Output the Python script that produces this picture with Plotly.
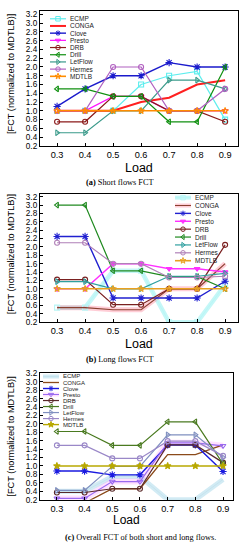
import plotly.graph_objects as go

W, H = 244, 550

# ---------------- data ----------------
loads = [0.3, 0.4, 0.5, 0.6, 0.7, 0.8, 0.9]
x_tick_labels = ["0.3", "0.4", "0.5", "0.6", "0.7", "0.8", "0.9"]
y_tick_vals = [0.2, 0.4, 0.6, 0.8, 1.0, 1.2, 1.4, 1.6, 1.8, 2.0, 2.2, 2.4, 2.6, 2.8, 3.0, 3.2]
schemes = ["ECMP", "CONGA", "Clove", "Presto", "DRB", "Drill", "LetFlow", "Hermes", "MDTLB"]

# (a) short flows FCT
short_ecmp = [1.0, 1.0, 1.0, 1.6, 1.8, 1.9, 0.8]
short_conga = [1.0, 1.0, 1.0, 1.2, 1.3, 1.6, 1.7]
short_clove = [1.1, 1.5, 1.8, 1.8, 2.1, 2.0, 2.0]
short_presto = [1.0, 1.0, 1.33, 1.33, 1.0, 1.0, 1.0]
short_drb = [0.75, 0.75, 1.33, 1.33, 1.0, 1.0, 0.75]
short_drill = [1.5, 1.5, 1.33, 1.33, 0.75, 0.75, 2.0]
short_letflow = [0.5, 0.5, 1.0, 1.0, 1.7, 1.7, 1.5]
short_hermes = [1.0, 1.0, 2.0, 2.0, 1.0, 1.0, 1.5]
short_mdtlb = [1.0, 1.0, 1.0, 1.0, 1.0, 1.0, 1.0]

# (b) long flows FCT
long_ecmp = [0.55, 0.55, 1.43, 1.43, 0.2, 0.2, 1.1]
long_conga = [0.55, 0.55, 0.5, 0.5, 1.0, 1.0, 1.6]
long_clove = [2.25, 2.25, 0.78, 0.78, 0.78, 0.78, 1.18]
long_presto = [1.0, 1.0, 1.6, 1.6, 1.48, 1.48, 1.4]
long_drb = [1.22, 1.22, 0.62, 0.62, 1.0, 1.0, 2.05]
long_drill = [3.0, 3.0, 1.43, 1.43, 1.29, 1.29, 1.0]
long_letflow = [1.17, 1.17, 1.0, 1.0, 1.3, 1.3, 1.37]
long_hermes = [2.1, 2.1, 1.6, 1.6, 1.27, 1.27, 1.3]
long_mdtlb = [1.0, 1.0, 1.0, 1.0, 1.0, 1.0, 1.0]

# (c) overall FCT
all_ecmp = [0.4, 0.4, 0.75, 0.75, 0.2, 0.2, 0.68]
all_conga = [0.12, 0.12, 0.46, 0.46, 1.27, 1.27, 1.5]
all_clove = [0.88, 0.88, 0.79, 0.79, 1.5, 1.5, 0.87]
all_presto = [0.23, 0.23, 0.63, 0.63, 1.55, 1.55, 1.48]
all_drb = [0.37, 0.37, 0.46, 0.46, 1.5, 1.5, 1.08]
all_drill = [1.82, 1.82, 1.49, 1.49, 2.05, 2.05, 1.05]
all_letflow = [0.42, 0.42, 0.99, 0.99, 1.74, 1.74, 1.2]
all_hermes = [1.49, 1.49, 1.18, 1.18, 1.59, 1.59, 1.24]
all_mdtlb = [1.0, 1.0, 1.0, 1.0, 1.0, 1.0, 1.0]

captions = ["<b>(a)</b> Short flows FCT", "<b>(b)</b> Long flows FCT",
            "<b>(c)</b> Overall FCT of both short and long flows."]
y_title = "[FCT (normalized to MDTLB)]"
x_title = "Load"

panel_values = [
    [short_ecmp, short_conga, short_clove, short_presto, short_drb, short_drill, short_letflow, short_hermes, short_mdtlb],
    [long_ecmp, long_conga, long_clove, long_presto, long_drb, long_drill, long_letflow, long_hermes, long_mdtlb],
    [all_ecmp, all_conga, all_clove, all_presto, all_drb, all_drill, all_letflow, all_hermes, all_mdtlb],
]

# ---------------- styles ----------------
# (color, symbol or None, line width, band color or None, band width)
panel_styles = [
    [("#5eeeee", "square-open", 1.2, None, 0),
     ("#ff2020", None, 2.0, None, 0),
     ("#1a1acc", "asterisk-open", 1.4, None, 0),
     ("#ff10ff", "triangle-down-open", 1.2, None, 0),
     ("#8b1a1a", "circle-open", 1.2, None, 0),
     ("#119011", "triangle-left-open", 1.2, None, 0),
     ("#3a9a8a", "triangle-right-open", 1.2, None, 0),
     ("#b060c0", "circle-open", 1.2, None, 0),
     ("#ff8c00", "star-open", 1.6, None, 0)],
    [("#b8f6f6", "square-open", 1.0, "rgba(150,240,240,0.55)", 4.5),
     ("#8a4030", None, 1.2, "rgba(255,90,120,0.30)", 5.0),
     ("#2020d0", "asterisk-open", 1.4, None, 0),
     ("#ff30ff", "triangle-down", 1.4, None, 0),
     ("#7a2020", "circle-open", 1.2, None, 0),
     ("#208a20", "triangle-left-open", 1.2, None, 0),
     ("#30a0a0", "triangle-right-open", 1.2, None, 0),
     ("#b080b8", "circle-open", 1.2, None, 0),
     ("#e8a020", "star-open", 1.6, None, 0)],
    [("#c5e3ee", None, 1.0, "rgba(195,228,240,0.75)", 5.0),
     ("#8b4a1a", None, 1.3, None, 0),
     ("#1a1ae0", "asterisk-open", 1.4, None, 0),
     ("#9a6af0", "triangle-down-open", 1.2, "rgba(255,120,255,0.22)", 6.0),
     ("#5a2a2a", "circle-open", 1.2, None, 0),
     ("#4a7a20", "triangle-left-open", 1.2, None, 0),
     ("#8090c0", "triangle-right-open", 1.2, None, 0),
     ("#9a88c8", "circle-open", 1.2, None, 0),
     ("#b8a800", "star", 1.4, None, 0)],
]

# ---------------- layout geometry (pixels) ----------------
panels = [
    dict(x0=40, x1=238, top=8, bottom=145, yr=[0.2, 3.28], xr=[0.239, 0.946],
         load=(139, 167), lfs=12.5, ytitle=(11, 72), cap=(120, 182),
         leg=dict(lx0=50, lx1=66, tx=68, y0=16, dy=7.3, fs=6.5)),
    dict(x0=40, x1=238, top=194, bottom=324, yr=[0.2, 3.26], xr=[0.239, 0.946],
         load=(139, 346), lfs=12.5, ytitle=(11, 255), cap=(120, 362),
         leg=dict(lx0=175, lx1=191, tx=193, y0=197.5, dy=8.0, fs=6.5)),
    dict(x0=40, x1=233, top=375, bottom=504, yr=[0.2, 3.22], xr=[0.239, 0.936],
         load=(127, 525), lfs=12.0, ytitle=(11, 440), cap=(140, 542),
         leg=dict(lx0=43, lx1=59, tx=61, y0=379, dy=6.1, fs=6.0)),
]

SANS = "Liberation Sans, Arial, sans-serif"
SERIF = "Liberation Serif, Times New Roman, serif"

fig = go.Figure()
layout = dict(width=W, height=H, margin=dict(l=0, r=0, t=0, b=0),
              paper_bgcolor="white", plot_bgcolor="rgba(0,0,0,0)",
              showlegend=False, annotations=[])

for i, (p, vals, styles) in enumerate(zip(panels, panel_values, panel_styles)):
    n = i + 1
    xa = "x" if n == 1 else f"x{n}"
    ya = "y" if n == 1 else f"y{n}"
    # bands first
    for name, v, st in zip(schemes, vals, styles):
        color, sym, lw, band, bw = st
        if band:
            fig.add_trace(go.Scatter(x=loads, y=v, mode="lines", xaxis=xa, yaxis=ya,
                                     line=dict(color=band, width=bw), hoverinfo="skip"))
    for name, v, st in zip(schemes, vals, styles):
        color, sym, lw, band, bw = st
        if sym:
            fig.add_trace(go.Scatter(x=loads, y=v, mode="lines+markers", name=name,
                                     xaxis=xa, yaxis=ya,
                                     line=dict(color=color, width=lw),
                                     marker=dict(symbol=sym, size=5 if "asterisk" not in sym else 6,
                                                 color=color, line=dict(color=color, width=1.1))))
        else:
            fig.add_trace(go.Scatter(x=loads, y=v, mode="lines", name=name,
                                     xaxis=xa, yaxis=ya, line=dict(color=color, width=lw)))

    axis_common = dict(showline=True, linecolor="black", linewidth=1.3, mirror=True,
                       ticks="inside", ticklen=3, tickwidth=1, tickcolor="black",
                       showgrid=False, zeroline=False,
                       tickfont=dict(family=SANS, size=8.2, color="black"))
    layout["xaxis" if n == 1 else f"xaxis{n}"] = dict(
        axis_common, domain=[p["x0"] / W, p["x1"] / W], range=p["xr"],
        anchor=ya, tickvals=loads, ticktext=x_tick_labels,
        tickfont=dict(family=SANS, size=9.2, color="black"))
    layout["yaxis" if n == 1 else f"yaxis{n}"] = dict(
        axis_common, domain=[1 - p["bottom"] / H, 1 - p["top"] / H], range=p["yr"],
        anchor=xa, tickvals=y_tick_vals, tickformat=".1f")

    # titles and caption
    lx, ly = p["load"]
    layout["annotations"].append(dict(text=x_title, x=lx / W, y=1 - ly / H, xref="paper", yref="paper",
                                      showarrow=False, xanchor="center", yanchor="middle",
                                      font=dict(family=SANS, size=p["lfs"], color="black")))
    tx, ty = p["ytitle"]
    layout["annotations"].append(dict(text=y_title, x=tx / W, y=1 - ty / H, xref="paper", yref="paper",
                                      showarrow=False, textangle=-90, xanchor="center", yanchor="middle",
                                      font=dict(family=SANS, size=9.2, color="black")))
    cx, cy = p["cap"]
    layout["annotations"].append(dict(text=captions[i], x=cx / W, y=1 - cy / H, xref="paper", yref="paper",
                                      showarrow=False, xanchor="center", yanchor="middle",
                                      font=dict(family=SERIF, size=8.3, color="black")))

    # custom compact legend on a full-page pixel overlay axis
    lg = p["leg"]
    for k, (name, st) in enumerate(zip(schemes, styles)):
        color, sym, lw, band, bw = st
        yy = lg["y0"] + k * lg["dy"]
        if band:
            fig.add_trace(go.Scatter(x=[lg["lx0"], lg["lx1"]], y=[yy, yy], mode="lines",
                                     xaxis="x4", yaxis="y4", hoverinfo="skip",
                                     line=dict(color=band, width=min(bw, 4))))
        fig.add_trace(go.Scatter(x=[lg["lx0"], lg["lx1"]], y=[yy, yy], mode="lines",
                                 xaxis="x4", yaxis="y4", hoverinfo="skip",
                                 line=dict(color=color, width=lw if not band else 1.0)))
        if sym:
            fig.add_trace(go.Scatter(x=[(lg["lx0"] + lg["lx1"]) / 2], y=[yy], mode="markers",
                                     xaxis="x4", yaxis="y4", hoverinfo="skip",
                                     marker=dict(symbol=sym, size=4.5, color=color,
                                                 line=dict(color=color, width=1))))
        layout["annotations"].append(dict(text=name, x=lg["tx"], y=yy, xref="x4", yref="y4",
                                          showarrow=False, xanchor="left", yanchor="middle",
                                          font=dict(family=SANS, size=lg["fs"], color="#222222")))

layout["xaxis4"] = dict(domain=[0, 1], range=[0, W], visible=False, anchor="y4", fixedrange=True)
layout["yaxis4"] = dict(domain=[0, 1], range=[H, 0], visible=False, anchor="x4", fixedrange=True)

fig.update_layout(**layout)
fig.write_html("out.html", config={"displayModeBar": False},
               post_script="document.body.style.margin='0';document.body.style.overflow='hidden';")
